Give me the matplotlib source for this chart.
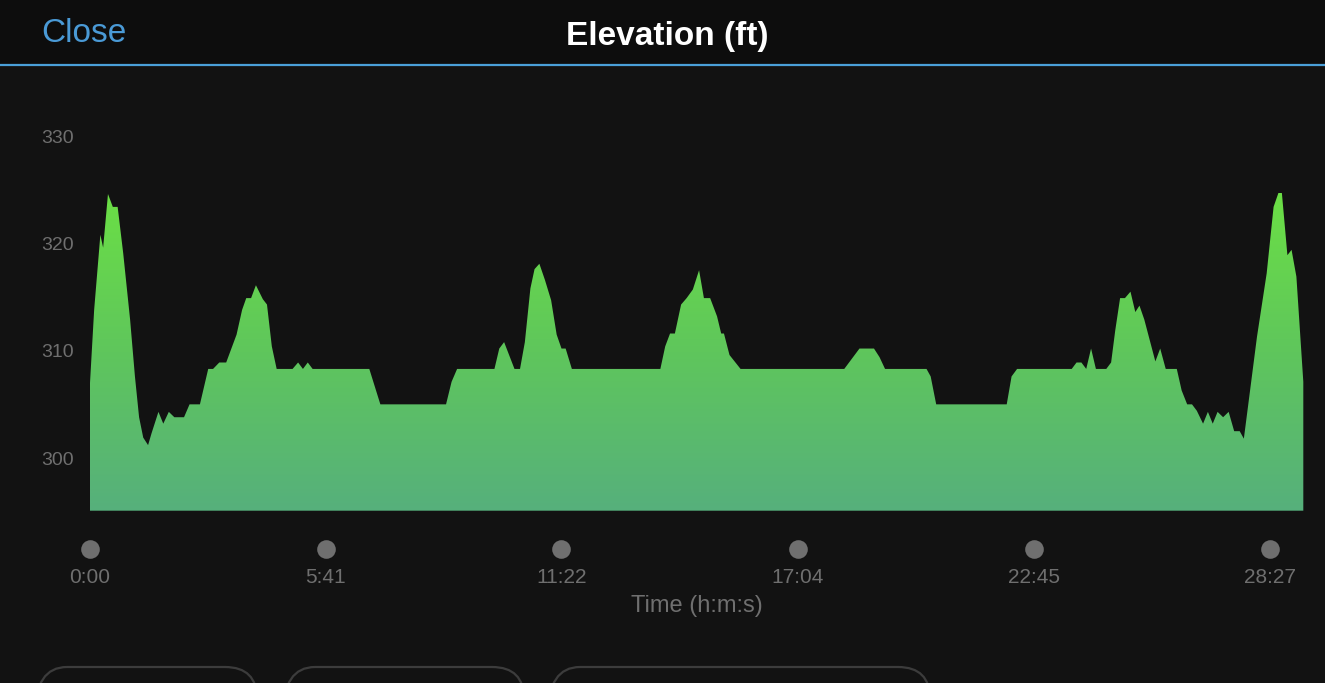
import numpy as np
import matplotlib
matplotlib.use("Agg")
import matplotlib.pyplot as plt
from matplotlib.colors import LinearSegmentedColormap
from matplotlib.patches import FancyBboxPatch, Rectangle
import matplotlib.transforms as mtransforms

plt.rcParams['font.family'] = ['Liberation Sans', 'DejaVu Sans']

# elapsed time (s) and elevation (ft)
temps = [0, 6, 15, 19, 26, 33, 40, 48, 58, 65, 71, 77, 84, 89, 99, 106, 114, 122, 136, 144,
         159, 171, 178, 187, 197, 212, 220, 226, 233, 240, 250, 256, 263, 270, 293, 301, 308, 315, 322, 404,
         420, 515, 523, 531, 585, 592, 599, 614, 622, 629, 637, 643, 650, 658, 667, 675, 682, 688, 697, 825,
         832, 839, 846, 855, 863, 872, 881, 888, 897, 907, 913, 917, 925, 941, 1091, 1113, 1134, 1142, 1150, 1210,
         1216, 1224, 1326, 1333, 1341, 1420, 1427, 1434, 1441, 1448, 1455, 1470, 1477, 1483, 1490, 1497, 1505, 1512, 1518, 1525,
         1541, 1548, 1556, 1572, 1579, 1587, 1594, 1601, 1610, 1617, 1624, 1631, 1639, 1647, 1655, 1663, 1669, 1678, 1688, 1702,
         1712, 1719, 1724, 1732, 1738, 1745, 1755]
altitude = [307.0, 313.8, 320.8, 319.6, 324.6, 323.4, 323.4, 319.1, 312.9, 307.6, 303.8, 301.9, 301.2, 302.3, 304.3, 303.2, 304.3, 303.8, 303.8, 305.0,
            305.0, 308.3, 308.3, 308.9, 308.9, 311.5, 313.8, 314.9, 314.9, 316.1, 314.8, 314.3, 310.4, 308.3, 308.3, 308.9, 308.3, 308.9, 308.3, 308.3,
            305.0, 305.0, 307.1, 308.3, 308.3, 310.2, 310.8, 308.3, 308.3, 310.8, 315.8, 317.6, 318.1, 316.6, 314.7, 311.5, 310.2, 310.2, 308.3, 308.3,
            310.4, 311.6, 311.6, 314.3, 314.9, 315.7, 317.5, 314.9, 314.9, 313.2, 311.6, 311.6, 309.6, 308.3, 308.3, 310.2, 310.2, 309.4, 308.3, 308.3,
            307.6, 305.0, 305.0, 307.6, 308.3, 308.3, 308.9, 308.9, 308.3, 310.2, 308.3, 308.3, 308.9, 311.9, 314.9, 314.9, 315.5, 313.6, 314.2, 312.9,
            309.0, 310.2, 308.3, 308.3, 306.3, 305.0, 305.0, 304.4, 303.2, 304.3, 303.2, 304.3, 303.8, 304.3, 302.5, 302.5, 301.8, 306.3, 311.3, 317.2,
            323.4, 324.7, 324.7, 318.9, 319.4, 316.9, 307.1]

xticks = [0, 341, 682, 1024, 1365, 1707]
xlabels = ["0:00", "5:41", "11:22", "17:04", "22:45", "28:27"]
yticks = [300, 310, 320, 330]

fond = "#121212"
gris = "#6f6f6f"
W, H = 1325, 683

fig = plt.figure(figsize=(W / 100, H / 100), dpi=100, facecolor=fond)

# calque plein ecran pour l'entete et les boutons
deco = fig.add_axes([0, 0, 1, 1])
deco.set_xlim(0, W)
deco.set_ylim(H, 0)
deco.axis("off")
deco.add_patch(Rectangle((0, 0), W, 65, color="#0d0d0d", lw=0))
deco.plot([0, W], [65, 65], color="#4a9fd8", lw=1.6)
deco.text(41, 34, "Close", color="#4a9ad6", fontsize=24, va="center", ha="left")
deco.text(667, 36, "Elevation (ft)", color="white", fontsize=24, fontweight="bold", va="center", ha="center")
for x0, x1 in [(35, 257), (283, 524), (548, 930)]:
    deco.add_patch(FancyBboxPatch((x0, 667), x1 - x0, 80, boxstyle="round,pad=0,rounding_size=32",
                                  fc="none", ec="#3c3c3c", lw=1.6))

# graphe
y0, y1 = 295.09, 333.36
ax = fig.add_axes([90 / W, (H - 510.7) / H, (1304 - 90) / W, (510.7 - 100) / H])
ax.set_facecolor(fond)
ax.patch.set_alpha(0)
ax.set_xlim(0, 1756)
ax.set_ylim(y0, y1)

poly = ax.fill_between(temps, altitude, y0, color="none", lw=0)
cmap = LinearSegmentedColormap.from_list("vert", ["#56b07c", "#5fc65c", "#6bdf45"])
grad = np.linspace(0, 1, 256).reshape(-1, 1)
im = ax.imshow(grad, cmap=cmap, origin="lower", aspect="auto",
               extent=[0, 1756, y0, max(altitude)], zorder=1)
chemin = poly.get_paths()[0]
im.set_clip_path(chemin, transform=ax.transData)
ax.set_xlim(0, 1756)
ax.set_ylim(y0, y1)

for s in ax.spines.values():
    s.set_visible(False)

ax.set_yticks(yticks)
ax.set_yticklabels([str(v) for v in yticks])
ax.tick_params(axis="y", length=0, pad=11.5, labelsize=14, labelcolor=gris)
ax.set_xticks(xticks)
ax.set_xticklabels(xlabels)
ax.tick_params(axis="x", length=0, pad=41.5, labelsize=15, labelcolor=gris)

# points sous l'axe
trans = mtransforms.blended_transform_factory(ax.transData, ax.transAxes)
ax.scatter(xticks, [-0.0933] * len(xticks), s=180, color=gris, transform=trans, clip_on=False, lw=0)

fig.text(697 / W, 1 - 606 / H, "Time (h:m:s)", color=gris, fontsize=17, ha="center", va="center")

fig.savefig("out.png", dpi=100, facecolor=fond)
